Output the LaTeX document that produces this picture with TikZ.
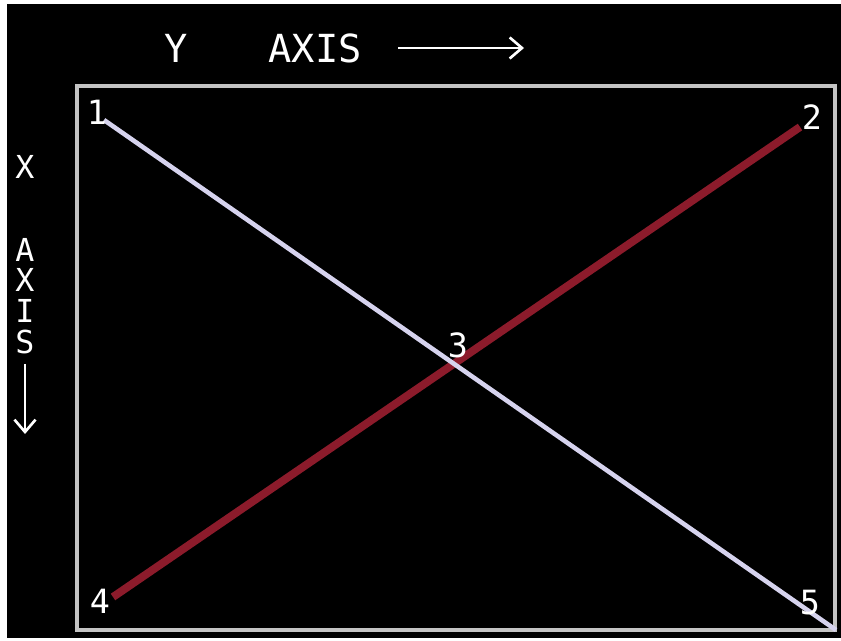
\documentclass[tikz,border=0pt]{standalone}
\usepackage{fontspec}
\setmonofont{DejaVu Sans Mono}
\usetikzlibrary{positioning, calc, arrows.meta}
\definecolor{Screen}{HTML}{000000}
\definecolor{Frame}{HTML}{C4C4C4}
\definecolor{Trace}{HTML}{D6D3EE}
\definecolor{Beam}{HTML}{8C1B2B}
\tikzset{
    axislabel/.style={text=white, font=\ttfamily\fontsize{22}{26}\selectfont, inner sep=0pt, align=center},
    stacklabel/.style={text=white, font=\ttfamily\fontsize{18}{17.5}\selectfont, inner sep=0pt, align=center},
    pointlabel/.style={text=white, font=\ttfamily\fontsize{19}{22}\selectfont, inner sep=0pt},
    axisarrow/.style={-{Straight Barb[length=7pt, width=12pt]}, line width=1.5pt, color=white},
    whiteline/.style={line width=2.6pt, color=Trace},
    redline/.style={line width=4.5pt, color=Beam},
}

\begin{document}
\begin{tikzpicture}[x=0.02cm, y=-0.02cm]
                % Pagina e schermo
                \useasboundingbox (0,0) rectangle (841,641);
                \fill[white] (0,0) rectangle (841,641);
                \fill[Screen] (7,4) rectangle (841,638);
                
                % Cornice
                \draw[Frame, line width=2pt] (77,86) rectangle (835,630);
                
                % Punti
                \coordinate (p1) at (104,120);
                \coordinate (p2) at (800,127);
                \coordinate (p4) at (113,597);
                \coordinate (p5) at (836,630);
                \coordinate (p3) at (intersection of p1--p5 and p4--p2);
                
                % Linee
                \draw[redline] (p4) -- (p2);
                \draw[whiteline] (p1) -- (p5);
                
                % Etichette dei punti
                \node[pointlabel] (n1) at (97,112) {1};
                \node[pointlabel] (n2) at (812,117) {2};
                \node[pointlabel] (n3) at (458,345) {3};
                \node[pointlabel] (n4) at (100,601) {4};
                \node[pointlabel] (n5) at (810,603) {5};
                
                % Asse Y
                \node[axislabel] (ylab) at (176,48) {Y};
                \node[axislabel] (yaxis) at (315,48) {AXIS};
                \coordinate (ystart) at (398,48);
                \coordinate (yend) at (524,48);
                \draw[axisarrow] (ystart) -- (yend);
                
                % Asse X
                \node[stacklabel] (xlab) at (25,167) {X};
                \node[stacklabel] (xaxis) at (25,296) {A\\X\\I\\S};
                \coordinate (xstart) at (25,364);
                \coordinate (xend) at (25,434);
                \draw[axisarrow] (xstart) -- (xend);
            \end{tikzpicture}
\end{document}
